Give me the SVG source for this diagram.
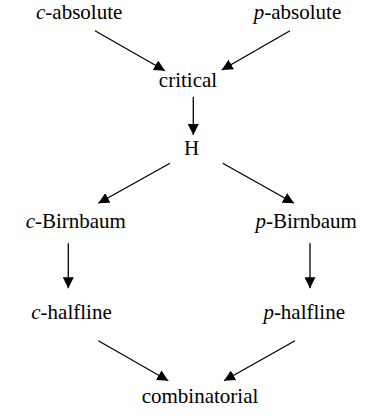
<svg xmlns="http://www.w3.org/2000/svg" width="365" height="418" viewBox="0 0 365 418">
<style>
text{font-family:'Liberation Serif','Times New Roman',serif;font-size:21px;fill:#000;text-anchor:middle}
.i{font-style:italic}
.e{stroke:#000;stroke-width:1.3;fill:none;marker-end:url(#a)}
</style>
<defs>
<marker id="a" markerUnits="userSpaceOnUse" markerWidth="11" markerHeight="11" refX="11" refY="5.5" orient="auto">
<path d="M0,0 L11,5.5 L0,11 z" fill="#000"/>
</marker>
</defs>
<rect width="365" height="418" fill="#fff"/>
<g id="connectors">
<line class="e" x1="95" y1="30.7" x2="165" y2="70.7"/>
<line class="e" x1="290" y1="30.7" x2="221.7" y2="70"/>
<line class="e" x1="193.3" y1="96.7" x2="193.3" y2="135"/>
<line class="e" x1="170" y1="163.3" x2="98.3" y2="203.3"/>
<line class="e" x1="222.7" y1="163.3" x2="294" y2="203.3"/>
<line class="e" x1="68.3" y1="243.3" x2="68.3" y2="288.3"/>
<line class="e" x1="310" y1="243.3" x2="310" y2="288.3"/>
<line class="e" x1="98.3" y1="340.7" x2="168.3" y2="380.7"/>
<line class="e" x1="295" y1="340.7" x2="224" y2="380.7"/>
</g>
<g id="c-absolute"><text x="79.2" y="18.5"><tspan class="i">c</tspan>-absolute</text></g>
<g id="p-absolute"><text x="297.5" y="18.5"><tspan class="i">p</tspan>-absolute</text></g>
<g id="critical"><text x="188" y="87">critical</text></g>
<g id="H"><text x="191.7" y="155">H</text></g>
<g id="c-Birnbaum"><text x="75.8" y="228"><tspan class="i">c</tspan>-Birnbaum</text></g>
<g id="p-Birnbaum"><text x="306.2" y="228"><tspan class="i">p</tspan>-Birnbaum</text></g>
<g id="c-halfline"><text x="71.5" y="319"><tspan class="i">c</tspan>-halfline</text></g>
<g id="p-halfline"><text x="304.2" y="319"><tspan class="i">p</tspan>-halfline</text></g>
<g id="combinatorial"><text x="200" y="403">combinatorial</text></g>
</svg>
